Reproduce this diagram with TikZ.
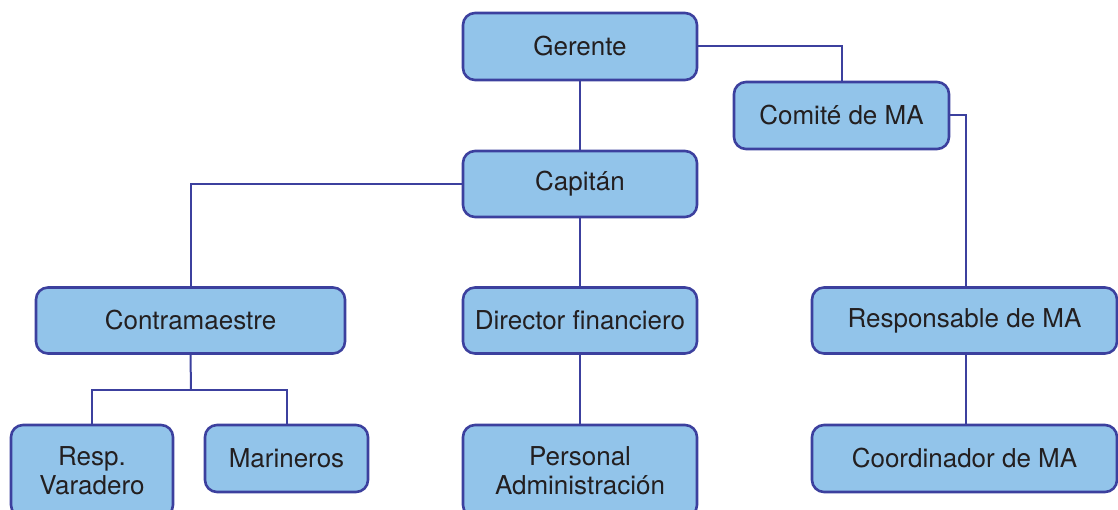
\documentclass[tikz,border=0pt]{standalone}
\usepackage{fontspec}
\setmainfont{TeX Gyre Heros}
\definecolor{boxfill}{HTML}{92C4EA}
\definecolor{boxline}{HTML}{3C409E}
\definecolor{txt}{HTML}{231F20}
\tikzset{
  orgbox/.style={draw=boxline, fill=boxfill, line width=2.6pt, rounded corners=12pt,
    inner sep=0pt, align=center, text=txt,
    font=\fontsize{26}{29}\selectfont},
  link/.style={draw=boxline, line width=2pt}
}
\begin{document}
\begin{tikzpicture}[x=1pt,y=-1pt]
\useasboundingbox (0,0) rectangle (1118,510);
\clip (0,0) rectangle (1118,510);
\node[orgbox, minimum width=234pt, minimum height=67pt] (ger) at (580,46.5) {Gerente};
\node[orgbox, minimum width=215pt, minimum height=67pt] (com) at (841.5,115.5) {Comité de MA};
\node[orgbox, minimum width=234pt, minimum height=66pt] (cap) at (580,184) {Capitán};
\node[orgbox, minimum width=309pt, minimum height=66pt] (con) at (190.5,320.5) {Contramaestre};
\node[orgbox, minimum width=234pt, minimum height=66pt] (dir) at (580,320.5) {Director financiero};
\node[orgbox, minimum width=305pt, minimum height=66pt] (res) at (964.5,320.5) {Responsable de MA};
\node[orgbox, minimum width=162pt, minimum height=92pt] (var) at (92,471) {Resp.\\Varadero};
\node[orgbox, minimum width=163pt, minimum height=67pt] (mar) at (286.5,458.5) {Marineros};
\node[orgbox, minimum width=234pt, minimum height=92pt] (per) at (580,471) {Personal\\Administración};
\node[orgbox, minimum width=305pt, minimum height=67pt] (coo) at (964.5,458.5) {Coordinador de MA};
\coordinate (branch) at (191,390);
\path[link] (ger.east) -| (com.north);
\path[link] (ger.south) -- (cap.north);
\path[link] (com.east) -| ([xshift=1.5pt]res.north);
\path[link] (cap.west) -| (con.north);
\path[link] (cap.south) -- (dir.north);
\path[link] (dir.south) -- (per.north);
\path[link] (con.south) -- (branch);
\path[link] (var.north) |- (branch) -| (mar.north);
\path[link] ([xshift=1.5pt]res.south) -- ([xshift=1.5pt]coo.north);
\end{tikzpicture}
\end{document}
